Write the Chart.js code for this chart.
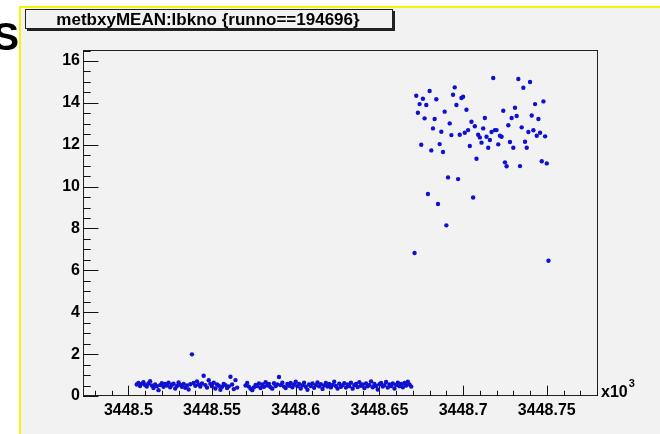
<!DOCTYPE html>
<html>
<head>
<meta charset="utf-8">
<script src="https://cdn.jsdelivr.net/npm/chart.js@4.4.0/dist/chart.umd.min.js"></script>
<style>
  html, body { margin: 0; padding: 0; background: #ffffff; overflow: hidden; }
  #wrap { position: relative; width: 660px; height: 434px; }
</style>
</head>
<body>
<div id="wrap"><canvas id="c" width="660" height="434"></canvas></div>
<script>
// Scatter of metbxyMEAN against lbkno for run 194696
const titleText = 'metbxyMEAN:lbkno {runno==194696}';
const sideLetter = 'S';
const axisMultiplier = 'x10';
const axisExponent = '3';

const xTickValues = [3448500, 3448550, 3448600, 3448650, 3448700, 3448750];
const xTickLabels = ['3448.5', '3448.55', '3448.6', '3448.65', '3448.7', '3448.75'];
const yTickValues = [0, 2, 4, 6, 8, 10, 12, 14, 16];
const yTickLabels = ['0', '2', '4', '6', '8', '10', '12', '14', '16'];

// first block range: low values
const lbknoLow = [
  3448505, 3448506, 3448507, 3448508, 3448509, 3448510, 3448511, 3448512, 3448513, 3448514,
  3448515, 3448516, 3448517, 3448518, 3448519, 3448520, 3448521, 3448522, 3448523, 3448524,
  3448525, 3448526, 3448527, 3448528, 3448529, 3448530, 3448531, 3448532, 3448533, 3448534,
  3448535, 3448536, 3448537, 3448538, 3448539, 3448540, 3448541, 3448542, 3448543, 3448544,
  3448545, 3448546, 3448547, 3448548, 3448549, 3448550, 3448551, 3448552, 3448553, 3448554,
  3448555, 3448556, 3448557, 3448558, 3448559, 3448560, 3448561, 3448562, 3448563, 3448564,
  3448565, 3448570, 3448571, 3448572, 3448573, 3448574, 3448575, 3448576, 3448577, 3448578,
  3448579, 3448580, 3448581, 3448582, 3448583, 3448584, 3448585, 3448586, 3448587, 3448588,
  3448589, 3448590, 3448591, 3448592, 3448593, 3448594, 3448595, 3448596, 3448597, 3448598,
  3448599, 3448600, 3448601, 3448602, 3448603, 3448604, 3448605, 3448606, 3448607, 3448608,
  3448609, 3448610, 3448611, 3448612, 3448613, 3448614, 3448615, 3448616, 3448617, 3448618,
  3448619, 3448620, 3448621, 3448622, 3448623, 3448624, 3448625, 3448626, 3448627, 3448628,
  3448629, 3448630, 3448631, 3448632, 3448633, 3448634, 3448635, 3448636, 3448637, 3448638,
  3448639, 3448640, 3448641, 3448642, 3448643, 3448644, 3448645, 3448646, 3448647, 3448648,
  3448649, 3448650, 3448651, 3448652, 3448653, 3448654, 3448655, 3448656, 3448657, 3448658,
  3448659, 3448660, 3448661, 3448662, 3448663, 3448664, 3448665, 3448666, 3448667, 3448668,
  3448669
];
const metLow = [
  0.55, 0.62, 0.48, 0.58, 0.66, 0.52, 0.45, 0.60, 0.71, 0.50,
  0.38, 0.55, 0.47, 0.28, 0.52, 0.61, 0.44, 0.57, 0.50, 0.63,
  0.42, 0.54, 0.59, 0.36, 0.48, 0.65, 0.53, 0.44, 0.58, 0.39,
  0.50, 0.31, 0.56, 1.99, 0.62, 0.49, 0.70, 0.55, 0.45, 0.60,
  0.97, 0.52, 0.40, 0.75, 0.58, 0.47, 0.63, 0.36, 0.55, 0.49,
  0.30, 0.44, 0.58, 0.52, 0.38, 0.46, 0.92, 0.55, 0.33, 0.76,
  0.40, 0.50, 0.62, 0.45, 0.35, 0.28, 0.41, 0.53, 0.47, 0.60,
  0.38, 0.55, 0.44, 0.66, 0.50, 0.57, 0.42, 0.35, 0.61, 0.48,
  0.55, 0.91, 0.52, 0.63, 0.45, 0.38, 0.57, 0.49, 0.62, 0.42,
  0.55, 0.68, 0.47, 0.58, 0.36, 0.51, 0.63, 0.44, 0.30, 0.55,
  0.48, 0.60, 0.39, 0.52, 0.65, 0.46, 0.56, 0.34, 0.50, 0.62,
  0.45, 0.57, 0.41, 0.53, 0.68, 0.48, 0.36, 0.59, 0.44, 0.52,
  0.61, 0.40, 0.55, 0.47, 0.63, 0.35, 0.51, 0.58, 0.43, 0.66,
  0.49, 0.55, 0.38, 0.60, 0.46, 0.53, 0.70, 0.42, 0.57, 0.48,
  0.31, 0.56, 0.62, 0.45, 0.52, 0.67, 0.40, 0.55, 0.48, 0.60,
  0.36, 0.53, 0.64, 0.47, 0.58, 0.42, 0.62, 0.50, 0.68, 0.55,
  0.45
];

// second block range: high values
const lbknoHigh = [
  3448671, 3448672, 3448673, 3448674, 3448675, 3448676, 3448677, 3448678, 3448679, 3448680,
  3448681, 3448682, 3448683, 3448684, 3448685, 3448686, 3448687, 3448688, 3448689, 3448690,
  3448691, 3448692, 3448693, 3448694, 3448695, 3448696, 3448697, 3448698, 3448699, 3448700,
  3448701, 3448702, 3448703, 3448704, 3448705, 3448706, 3448707, 3448708, 3448709, 3448710,
  3448711, 3448712, 3448713, 3448714, 3448715, 3448716, 3448717, 3448718, 3448719, 3448720,
  3448721, 3448722, 3448723, 3448724, 3448725, 3448726, 3448727, 3448728, 3448729, 3448730,
  3448731, 3448732, 3448733, 3448734, 3448735, 3448736, 3448737, 3448738, 3448739, 3448740,
  3448741, 3448742, 3448743, 3448744, 3448745, 3448746, 3448747, 3448748, 3448749, 3448750,
  3448751
];
const metHigh = [
  6.83, 14.34, 13.53, 13.94, 12.00, 14.20, 13.26, 13.90, 9.65, 14.57,
  11.73, 12.78, 13.23, 14.17, 9.17, 12.03, 12.62, 11.65, 13.58, 8.15,
  10.44, 13.02, 12.46, 14.39, 14.74, 13.90, 10.36, 12.48, 14.23, 14.29,
  12.57, 13.67, 12.70, 11.94, 13.10, 9.48, 12.88, 11.33, 12.48, 12.35,
  12.10, 12.78, 13.28, 12.38, 11.86, 12.23, 12.61, 15.19, 12.70, 12.70,
  12.02, 12.43, 12.38, 13.62, 11.16, 10.97, 12.93, 12.13, 13.28, 11.86,
  13.77, 13.37, 15.14, 10.98, 12.83, 14.72, 12.14, 11.86, 12.61, 15.00,
  13.40, 12.69, 13.94, 12.43, 13.23, 12.57, 11.21, 14.07, 12.40, 11.11,
  6.46
];

const points = [];
lbknoLow.forEach((x, i) => points.push({ x: x, y: metLow[i] }));
lbknoHigh.forEach((x, i) => points.push({ x: x, y: metHigh[i] }));

const FONT = "'Liberation Sans', Arial, Helvetica, sans-serif";

// pad colours, frame, inner tick marks, title pave and axis exponent
const rootStyle = {
  id: 'rootStyle',
  beforeDraw(chart) {
    const ctx = chart.ctx;
    ctx.save();
    ctx.fillStyle = '#ffffff';
    ctx.fillRect(0, 0, chart.width, chart.height);
    ctx.fillStyle = '#f2f2f2';
    ctx.fillRect(21, 8, chart.width - 21, chart.height - 8);
    ctx.fillStyle = '#f5f500';
    ctx.fillRect(19, 6, 2, chart.height - 6);
    ctx.fillRect(19, 6, chart.width - 19, 2);
    ctx.restore();
  },
  beforeDatasetsDraw(chart) {
    const ctx = chart.ctx;
    const a = chart.chartArea;
    const xs = chart.scales.x, ys = chart.scales.y;
    ctx.save();
    // frame
    ctx.strokeStyle = '#222222';
    ctx.lineWidth = 1;
    ctx.strokeRect(a.left + 0.5, a.top + 0.5, a.right - a.left - 1, a.bottom - a.top - 1);
    ctx.strokeStyle = '#111111';
    ctx.beginPath();
    // x ticks, pointing into the frame
    const xMajor = (a.bottom - a.top) * 0.03;
    for (let v = 3448480; v <= 3448780; v += 10) {
      const px = Math.round(xs.getPixelForValue(v)) + 0.5;
      const len = (v % 50 === 0) ? xMajor : xMajor / 2;
      ctx.moveTo(px, a.bottom);
      ctx.lineTo(px, a.bottom - len);
    }
    // y ticks
    const yMajor = (a.right - a.left) * 0.03;
    for (let v = 0; v <= 16.5; v += 0.5) {
      const py = Math.round(ys.getPixelForValue(v)) + 0.5;
      const len = (v % 2 === 0) ? yMajor : yMajor / 2;
      ctx.moveTo(a.left, py);
      ctx.lineTo(a.left + len, py);
    }
    ctx.stroke();
    ctx.restore();
  },
  afterDraw(chart) {
    const ctx = chart.ctx;
    const a = chart.chartArea;
    ctx.save();
    // title pave with shadow
    const bx = 25, by = 9, bw = 368, bh = 20;
    ctx.fillStyle = '#222222';
    ctx.fillRect(bx + 2, by + 2, bw, bh);
    ctx.fillStyle = '#f2f2f2';
    ctx.fillRect(bx, by, bw, bh);
    ctx.strokeStyle = '#222222';
    ctx.lineWidth = 1;
    ctx.strokeRect(bx + 0.5, by + 0.5, bw - 1, bh - 1);
    ctx.fillStyle = '#000000';
    ctx.font = 'bold 17px ' + FONT;
    ctx.textAlign = 'center';
    ctx.textBaseline = 'alphabetic';
    ctx.fillText(titleText, bx + bw / 2 - 1, by + 16);
    // letter cut by the pad edge
    ctx.font = 'bold 39px ' + FONT;
    ctx.textAlign = 'right';
    ctx.fillText(sideLetter, 19, 50);
    // axis multiplier
    ctx.textAlign = 'left';
    ctx.font = 'bold 16px ' + FONT;
    ctx.fillText(axisMultiplier, a.right + 3, a.bottom + 1);
    const w = ctx.measureText(axisMultiplier).width;
    ctx.font = 'bold 11px ' + FONT;
    ctx.fillText(axisExponent, a.right + 3 + w + 1, a.bottom - 9);
    ctx.restore();
  }
};

new Chart(document.getElementById('c'), {
  type: 'scatter',
  data: {
    datasets: [{
      data: points,
      showLine: false,
      pointRadius: 2.2,
      pointHoverRadius: 2.2,
      pointBackgroundColor: '#1010d0',
      pointBorderWidth: 0
    }]
  },
  options: {
    responsive: false,
    animation: false,
    devicePixelRatio: 1,
    layout: { padding: { left: 0, top: 50, right: 62, bottom: 0 } },
    plugins: { legend: { display: false }, tooltip: { enabled: false }, title: { display: false } },
    scales: {
      x: {
        type: 'linear',
        min: 3448472.9,
        max: 3448780.6,
        afterBuildTicks: s => { s.ticks = xTickValues.map(v => ({ value: v })); },
        afterFit: s => { s.height = 38; },
        grid: { display: false, drawTicks: false },
        border: { display: false },
        ticks: {
          padding: 5,
          autoSkip: false,
          maxRotation: 0,
          color: '#000000',
          font: { family: FONT, size: 16, weight: 'bold' },
          callback: (v, i) => xTickLabels[i]
        }
      },
      y: {
        type: 'linear',
        min: 0,
        max: 16.525,
        afterBuildTicks: s => { s.ticks = yTickValues.map(v => ({ value: v })); },
        afterFit: s => { s.width = 83; },
        grid: { display: false, drawTicks: false },
        border: { display: false },
        ticks: {
          padding: 3,
          autoSkip: false,
          color: '#000000',
          font: { family: FONT, size: 16, weight: 'bold' },
          callback: (v, i) => yTickLabels[i]
        }
      }
    }
  },
  plugins: [rootStyle]
});
</script>
</body>
</html>
